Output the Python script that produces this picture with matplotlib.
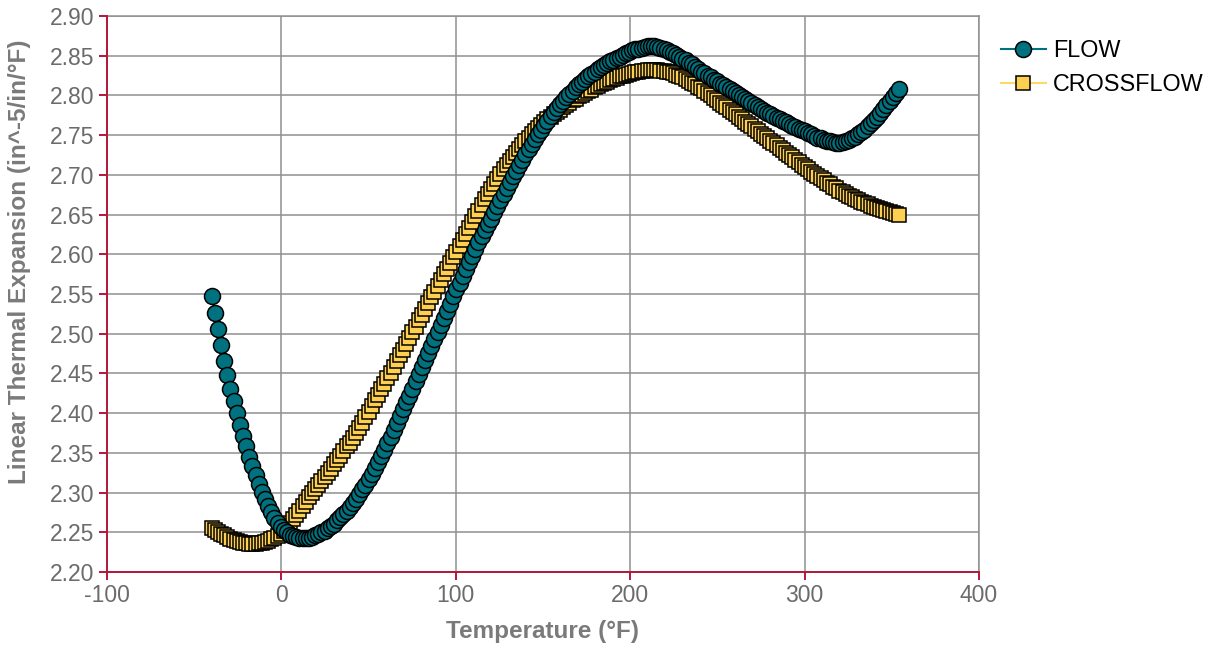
import numpy as np
import matplotlib
matplotlib.use("Agg")
import matplotlib.pyplot as plt

# Temperatures sampled every 1.8 °F (1 °C) from -40 °F
temps = np.round(np.arange(220) * 1.8 - 40.0, 1)

flow = [
    2.548, 2.526, 2.506, 2.486, 2.466, 2.448, 2.431, 2.415, 2.400, 2.385,
    2.371, 2.358, 2.345, 2.333, 2.322, 2.311, 2.301, 2.292, 2.283, 2.275,
    2.268, 2.262, 2.257, 2.253, 2.250, 2.247, 2.245, 2.244, 2.243, 2.243,
    2.243, 2.243, 2.244, 2.246, 2.248, 2.250, 2.252, 2.255, 2.258, 2.261,
    2.265, 2.269, 2.273, 2.277, 2.282, 2.287, 2.292, 2.298, 2.304, 2.310,
    2.317, 2.324, 2.331, 2.338, 2.346, 2.354, 2.362, 2.370, 2.379, 2.387,
    2.396, 2.405, 2.414, 2.422, 2.431, 2.440, 2.449, 2.458, 2.467, 2.476,
    2.484, 2.493, 2.502, 2.511, 2.520, 2.529, 2.538, 2.547, 2.556, 2.564,
    2.573, 2.582, 2.590, 2.598, 2.607, 2.615, 2.623, 2.631, 2.638, 2.645,
    2.653, 2.661, 2.668, 2.676, 2.683, 2.691, 2.698, 2.705, 2.712, 2.719,
    2.726, 2.732, 2.739, 2.745, 2.751, 2.757, 2.763, 2.768, 2.774, 2.779,
    2.784, 2.789, 2.793, 2.798, 2.802, 2.806, 2.810, 2.814, 2.817, 2.821,
    2.824, 2.827, 2.830, 2.833, 2.836, 2.838, 2.841, 2.843, 2.845, 2.847,
    2.849, 2.851, 2.853, 2.855, 2.857, 2.858, 2.859, 2.860, 2.861, 2.862,
    2.862, 2.862, 2.861, 2.860, 2.859, 2.857, 2.855, 2.853, 2.851, 2.849,
    2.846, 2.844, 2.841, 2.839, 2.836, 2.833, 2.830, 2.828, 2.825, 2.823,
    2.820, 2.818, 2.815, 2.813, 2.810, 2.808, 2.805, 2.803, 2.800, 2.798,
    2.795, 2.793, 2.790, 2.788, 2.785, 2.783, 2.781, 2.778, 2.776, 2.774,
    2.772, 2.770, 2.768, 2.766, 2.764, 2.762, 2.760, 2.758, 2.757, 2.755,
    2.753, 2.751, 2.749, 2.747, 2.746, 2.744, 2.743, 2.742, 2.741, 2.740,
    2.740, 2.741, 2.742, 2.744, 2.746, 2.748, 2.751, 2.754, 2.757, 2.761,
    2.765, 2.769, 2.773, 2.778, 2.783, 2.788, 2.793, 2.798, 2.803, 2.808,
]

crossflow = [
    2.256, 2.253, 2.250, 2.248, 2.246, 2.244, 2.242, 2.240, 2.239, 2.238,
    2.237, 2.236, 2.235, 2.235, 2.235, 2.236, 2.237, 2.238, 2.239, 2.241,
    2.243, 2.245, 2.248, 2.252, 2.257, 2.262, 2.267, 2.272, 2.277, 2.283,
    2.288, 2.294, 2.299, 2.304, 2.309, 2.315, 2.320, 2.325, 2.330, 2.336,
    2.341, 2.346, 2.352, 2.358, 2.363, 2.369, 2.375, 2.381, 2.388, 2.395,
    2.402, 2.409, 2.416, 2.423, 2.430, 2.437, 2.444, 2.451, 2.458, 2.466,
    2.473, 2.480, 2.487, 2.495, 2.502, 2.509, 2.517, 2.524, 2.531, 2.539,
    2.546, 2.553, 2.560, 2.568, 2.575, 2.582, 2.589, 2.596, 2.603, 2.610,
    2.618, 2.626, 2.633, 2.641, 2.648, 2.655, 2.662, 2.669, 2.676, 2.682,
    2.689, 2.695, 2.701, 2.707, 2.712, 2.718, 2.723, 2.728, 2.733, 2.738,
    2.742, 2.747, 2.751, 2.755, 2.759, 2.763, 2.766, 2.770, 2.773, 2.776,
    2.779, 2.782, 2.785, 2.788, 2.791, 2.794, 2.796, 2.799, 2.801, 2.803,
    2.805, 2.807, 2.810, 2.812, 2.814, 2.816, 2.817, 2.819, 2.821, 2.822,
    2.824, 2.825, 2.826, 2.827, 2.828, 2.829, 2.830, 2.831, 2.831, 2.832,
    2.832, 2.832, 2.832, 2.831, 2.831, 2.830, 2.829, 2.828, 2.826, 2.824,
    2.823, 2.821, 2.818, 2.816, 2.814, 2.811, 2.809, 2.806, 2.803, 2.800,
    2.797, 2.794, 2.791, 2.788, 2.785, 2.782, 2.779, 2.776, 2.773, 2.770,
    2.767, 2.764, 2.761, 2.758, 2.755, 2.752, 2.749, 2.746, 2.743, 2.740,
    2.737, 2.734, 2.731, 2.728, 2.725, 2.722, 2.719, 2.716, 2.713, 2.710,
    2.707, 2.704, 2.701, 2.698, 2.696, 2.693, 2.690, 2.688, 2.685, 2.683,
    2.680, 2.678, 2.676, 2.674, 2.672, 2.670, 2.668, 2.666, 2.664, 2.663,
    2.661, 2.660, 2.658, 2.657, 2.656, 2.654, 2.653, 2.652, 2.651, 2.650,
]

x_ticks = [-100, 0, 100, 200, 300, 400]
y_ticks = np.round(np.arange(2.20, 2.901, 0.05), 2)

plt.rcParams['font.family'] = ['Liberation Sans', 'DejaVu Sans']
plt.rcParams['axes.unicode_minus'] = False

axis_red = '#b3173a'
grid_gray = '#8f8f8f'
label_gray = '#6b6b6b'

fig = plt.figure(figsize=(12.1, 6.48), dpi=100)
ax = fig.add_axes([0.0884, 0.1173, 0.7206, 0.858])

# Crossflow first so the flow circles sit on top
ax.plot(temps, crossflow, color='#ffd966', lw=1.5, marker='s', markersize=10.5,
        markerfacecolor='#ffd04f', markeredgecolor='black', markeredgewidth=1.1,
        label='CROSSFLOW', zorder=3)
ax.plot(temps, flow, color='#00727f', lw=1.5, marker='o', markersize=11.5,
        markerfacecolor='#00727f', markeredgecolor='black', markeredgewidth=1.1,
        label='FLOW', zorder=4)

ax.set_xlim(-100, 400)
ax.set_ylim(2.20, 2.90)
ax.set_xticks(x_ticks)
ax.set_yticks(y_ticks)
ax.set_yticklabels([f'{v:.2f}' for v in y_ticks])

ax.grid(True, color=grid_gray, lw=1.1)
ax.set_axisbelow(True)

for side in ['top', 'right']:
    ax.spines[side].set_color(grid_gray)
    ax.spines[side].set_linewidth(1.1)
for side in ['left', 'bottom']:
    ax.spines[side].set_color(axis_red)
    ax.spines[side].set_linewidth(1.4)
    ax.spines[side].set_zorder(5)

ax.tick_params(axis='both', colors=axis_red, length=6, width=1.4,
               labelcolor=label_gray, labelsize=16.5, pad=3)

ax.set_xlabel('Temperature (°F)', fontsize=17.5, fontweight='bold',
              color='#7a7a7a', labelpad=9)
ax.set_ylabel('Linear Thermal Expansion (in^-5/in/°F)', fontsize=17.5,
              fontweight='bold', color='#7a7a7a')
ax.yaxis.set_label_coords(-0.087, 0.558)

handles, labels = ax.get_legend_handles_labels()
ax.legend(handles[::-1], labels[::-1], loc='upper left',
          bbox_to_anchor=(1.015, 0.975), frameon=False, fontsize=16.8,
          handlelength=1.9, handletextpad=0.3, labelspacing=0.45,
          borderaxespad=0)

fig.savefig('out.png', dpi=100)
